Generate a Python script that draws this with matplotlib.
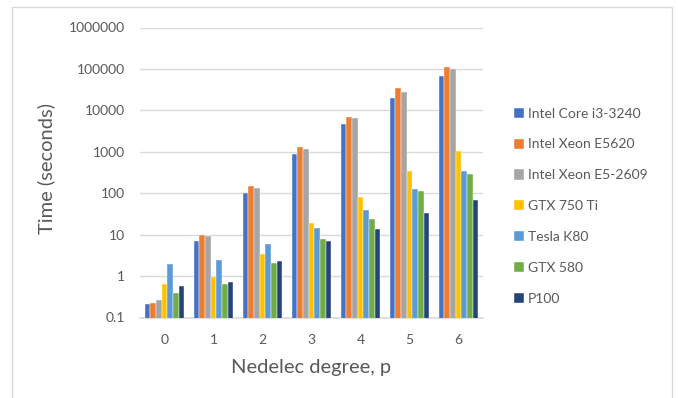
import matplotlib
matplotlib.use("Agg")
import matplotlib.pyplot as plt
from matplotlib.patches import Rectangle
import numpy as np

categories = ["0", "1", "2", "3", "4", "5", "6"]
series_names = ["Intel Core i3-3240", "Intel Xeon E5620", "Intel Xeon E5-2609",
                "GTX 750 Ti", "Tesla K80", "GTX 580", "P100"]
intel_i3 = [0.21, 7.2, 100, 860, 4750, 20000, 69000]
xeon_e5620 = [0.23, 10, 148, 1280, 7100, 34000, 114000]
xeon_e5_2609 = [0.26, 9.5, 135, 1150, 6500, 27600, 102000]
gtx750ti = [0.63, 0.93, 3.5, 19.6, 82, 350, 1050]
tesla_k80 = [1.95, 2.4, 5.9, 14.6, 40, 126, 350]
gtx580 = [0.38, 0.63, 2.1, 8.0, 24, 113, 283]
p100 = [0.57, 0.70, 2.37, 7.1, 13.4, 34, 69]
series = [intel_i3, xeon_e5620, xeon_e5_2609, gtx750ti, tesla_k80, gtx580, p100]
colors = ["#4472C4", "#ED7D31", "#A5A5A5", "#FFC000", "#5B9BD5", "#70AD47", "#264478"]
ytick_vals = [0.1, 1, 10, 100, 1000, 10000, 100000, 1000000]
ytick_labels = ["0.1", "1", "10", "100", "1000", "10000", "100000", "1000000"]

plt.rcParams['font.family'] = ['Lato', 'DejaVu Sans']
txt = "#595959"
W, H = 678, 398
fig = plt.figure(figsize=(W / 100, H / 100), dpi=100)

# outer chart border
fig.patches.append(Rectangle((11.5 / W, -0.05), (672 - 11.5) / W, 1.05 - 7.5 / H,
                             transform=fig.transFigure, fill=False,
                             edgecolor="#d9d9d9", linewidth=1.0))

ax = fig.add_axes([140 / W, 1 - 317.5 / H, (483 - 140) / W, (317.5 - 27.5) / H])
ax.set_yscale("log")
ax.set_ylim(0.1, 1e6)
n = len(series)
bw = 0.816 / n
x = np.arange(len(categories))
for i, (vals, c, name) in enumerate(zip(series, colors, series_names)):
    ax.bar(x - 0.408 + bw * (i + 0.5), vals, width=bw, color=c, label=name,
           edgecolor="white", linewidth=0.3, zorder=3)
ax.set_xlim(-0.5, len(categories) - 0.5)
ax.set_xticks(x)
ax.set_xticklabels(categories)
ax.set_yticks(ytick_vals)
ax.set_yticklabels(ytick_labels)
ax.yaxis.set_minor_locator(matplotlib.ticker.NullLocator())
ax.grid(axis="y", color="#d9d9d9", linewidth=1.0, zorder=0)
for s in ["top", "right", "left"]:
    ax.spines[s].set_visible(False)
ax.spines["bottom"].set_color("#d9d9d9")
ax.spines["bottom"].set_linewidth(1.2)
ax.tick_params(axis="both", length=0, colors=txt, labelsize=10)
ax.tick_params(axis="y", pad=11)
ax.tick_params(axis="x", pad=12)
ax.set_xlabel("Nedelec degree, p", fontsize=14.5, color=txt)
ax.set_ylabel("Time (seconds)", fontsize=14.5, color=txt)
ax.xaxis.set_label_coords(0.5, -(368 - 317.5) / 290 - 0.0, transform=ax.transAxes)
ax.xaxis.label.set_va("center")
ax.yaxis.set_label_coords(-(140 - 46) / 343, (317.5 - 168) / 290, transform=ax.transAxes)
ax.yaxis.label.set_va("center")

leg = fig.legend(loc="upper left", bbox_to_anchor=(508 / W, 1 - 102 / H),
                 frameon=False, fontsize=10, handlelength=0.75, handleheight=0.75,
                 handletextpad=0.3, labelspacing=1.36, borderaxespad=0)
for t in leg.get_texts():
    t.set_color(txt)

fig.savefig("out.png", dpi=100)
